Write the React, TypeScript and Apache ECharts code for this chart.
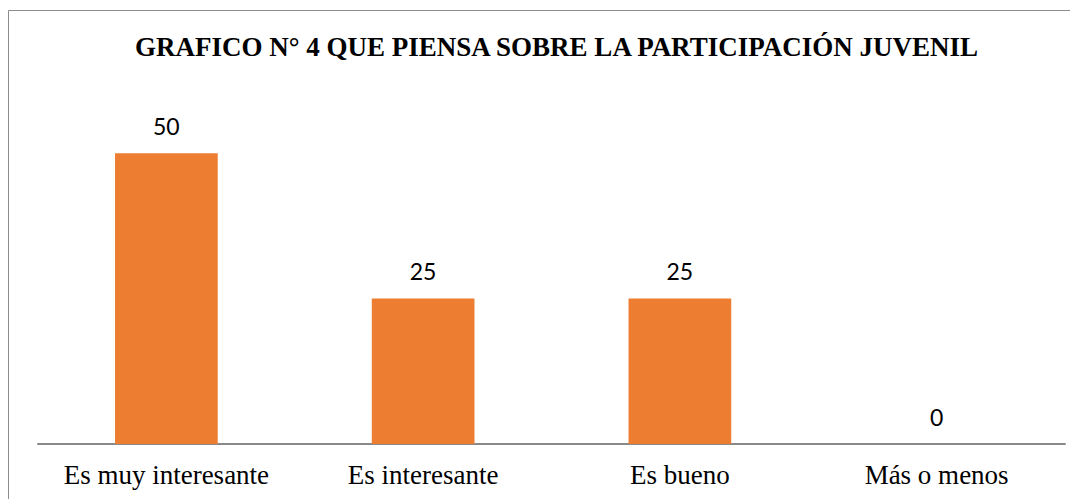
import React, { useEffect, useRef } from "react";
import * as echarts from "echarts";

const titleText = "GRAFICO N° 4 QUE PIENSA SOBRE LA PARTICIPACIÓN JUVENIL";
const categories = ["Es muy interesante", "Es interesante", "Es bueno", "Más o menos"];
const values = [50, 25, 25, 0];

export default function App() {
  const ref = useRef<HTMLDivElement>(null);
  useEffect(() => {
    if (!ref.current) return;
    const chart = echarts.init(ref.current, null, { renderer: "svg" });
    chart.setOption({
      animation: false,
      backgroundColor: "#ffffff",
      title: {
        text: titleText,
        left: 127,
        top: 25,
        padding: 0,
        textStyle: {
          fontFamily: "Liberation Serif",
          fontWeight: "bold",
          fontSize: 27,
          color: "#000000",
        },
      },
      graphic: [
        {
          type: "rect",
          shape: { x: 0.5, y: 2.5, width: 1200, height: 700 },
          style: { fill: "none", stroke: "#8c8c8c", lineWidth: 1 },
          silent: true,
        },
      ],
      grid: { left: 30, right: 13, top: 87, bottom: 55 },
      xAxis: {
        type: "category",
        data: categories,
        axisLine: { show: true, lineStyle: { color: "#898989", width: 2 } },
        axisTick: { show: false },
        axisLabel: {
          interval: 0,
          margin: 17,
          fontFamily: "Liberation Serif",
          fontSize: 27,
          color: "#000000",
        },
      },
      yAxis: {
        type: "value",
        min: 0,
        max: 60,
        show: false,
        splitLine: { show: false },
      },
      series: [
        {
          type: "bar",
          data: values,
          barCategoryGap: "60%",
          itemStyle: { color: "#ED7D31" },
          label: {
            show: true,
            position: "top",
            distance: 16,
            fontFamily: "Lato",
            fontSize: 23,
            color: "#000000",
          },
        },
      ],
    });
    return () => chart.dispose();
  }, []);
  return <div ref={ref} style={{ width: 1070, height: 491 }} />;
}
